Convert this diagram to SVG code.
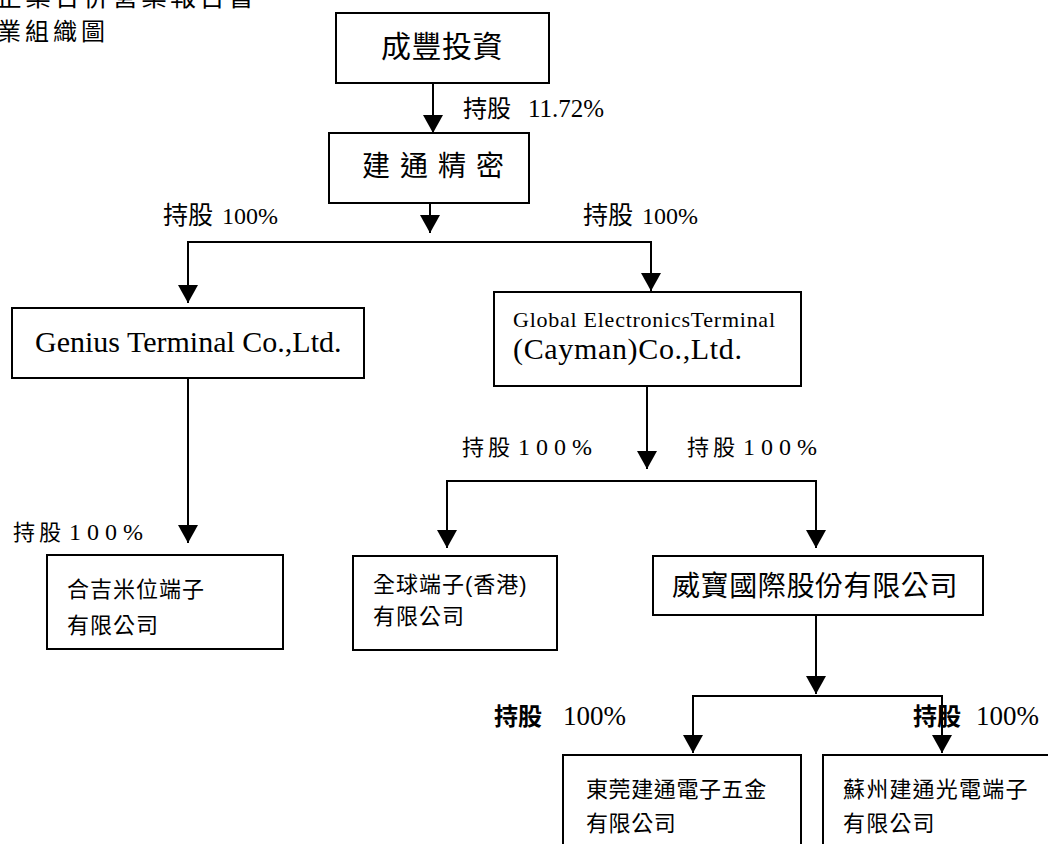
<svg xmlns="http://www.w3.org/2000/svg" width="1048" height="844" viewBox="0 0 1048 844">
<defs>
<style>
.box{fill:#fff;stroke:#000;stroke-width:2}
.c{fill:none;stroke:#000;stroke-width:2}
.t{font-family:"Liberation Serif","Noto Sans CJK TC",serif;fill:#000}
.s{font-family:"Liberation Sans","Noto Sans CJK TC",sans-serif;fill:#000}
.k{font-family:"Noto Sans CJK TC",sans-serif}
</style>
<marker id="ah" viewBox="0 0 18 20" refX="18" refY="10" markerWidth="18" markerHeight="20" markerUnits="userSpaceOnUse" orient="auto">
<path d="M0,0 L18,10 L0,20 z" fill="#000"/>
</marker>
</defs>
<rect width="1048" height="844" fill="#fff"/>
<g id="title">
<text class="t" x="-4" y="6" font-size="26" letter-spacing="3">企業合併營業報告書</text>
<text class="t" x="-3" y="40" font-size="24" letter-spacing="4">業組織圖</text>
</g>
<g id="connectors">
<line class="c" x1="433" y1="83" x2="433" y2="133" marker-end="url(#ah)"/>
<line class="c" x1="430" y1="203" x2="430" y2="233" marker-end="url(#ah)"/>
<polyline class="c" points="188,242 651,242 651,291" marker-end="url(#ah)"/>
<line class="c" x1="188" y1="241" x2="188" y2="303" marker-end="url(#ah)"/>
<line class="c" x1="188" y1="378" x2="188" y2="543" marker-end="url(#ah)"/>
<line class="c" x1="647" y1="386" x2="647" y2="469" marker-end="url(#ah)"/>
<polyline class="c" points="447,481 816,481 816,548" marker-end="url(#ah)"/>
<line class="c" x1="447" y1="480" x2="447" y2="548" marker-end="url(#ah)"/>
<line class="c" x1="816" y1="615" x2="816" y2="694" marker-end="url(#ah)"/>
<polyline class="c" points="693,696 942,696 942,753" marker-end="url(#ah)"/>
<line class="c" x1="693" y1="695" x2="693" y2="753" marker-end="url(#ah)"/>
</g>
<g id="labels">
<text class="t" y="117"><tspan class="k" font-size="24" x="463">持股</tspan><tspan font-size="25" x="528">11.72%</tspan></text>
<text class="t" y="224"><tspan class="k" font-size="25" x="163">持股</tspan><tspan font-size="24" x="222">100%</tspan></text>
<text class="t" y="224"><tspan class="k" font-size="25" x="583">持股</tspan><tspan font-size="24" x="642">100%</tspan></text>
<text class="t" y="540"><tspan class="k" font-size="22" x="13 39">持股</tspan><tspan font-size="24" x="69 87 105 123">100%</tspan></text>
<text class="t" y="455"><tspan class="k" font-size="22" x="462 488">持股</tspan><tspan font-size="24" x="518 536 554 572">100%</tspan></text>
<text class="t" y="455"><tspan class="k" font-size="22" x="687 713">持股</tspan><tspan font-size="24" x="743 761 779 797">100%</tspan></text>
<text class="t" y="725"><tspan class="k" font-size="24" font-weight="bold" x="494">持股</tspan><tspan font-size="27" x="563">100%</tspan></text>
<text class="t" y="725"><tspan class="k" font-size="24" font-weight="bold" x="913">持股</tspan><tspan font-size="27" x="976">100%</tspan></text>
</g>
<g id="n1">
<rect class="box" x="336" y="13" width="213" height="70"/>
<text class="s" x="381" y="57" font-size="30" letter-spacing="0.5">成豐投資</text>
</g>
<g id="n2">
<rect class="box" x="329" y="133" width="200" height="70"/>
<text class="s" x="362" y="176" font-size="28" letter-spacing="10">建通精密</text>
</g>
<g id="n3">
<rect class="box" x="12" y="308" width="352" height="70"/>
<text class="t" x="35" y="352" font-size="30">Genius Terminal Co.,Ltd.</text>
</g>
<g id="n4">
<rect class="box" x="494" y="292" width="307" height="94"/>
<text class="t" x="513" y="327" font-size="22" textLength="262" lengthAdjust="spacing">Global ElectronicsTerminal</text>
<text class="t" x="513" y="359" font-size="30" textLength="229" lengthAdjust="spacing">(Cayman)Co.,Ltd.</text>
</g>
<g id="n5">
<rect class="box" x="47" y="555" width="236" height="94"/>
<text class="s" x="67" y="597" font-size="22" letter-spacing="1">合吉米位端子</text>
<text class="s" x="67" y="633" font-size="22" letter-spacing="1">有限公司</text>
</g>
<g id="n6">
<rect class="box" x="353" y="556" width="204" height="94"/>
<text class="s" x="373" y="592" font-size="22" letter-spacing="1">全球端子(香港)</text>
<text class="s" x="373" y="624" font-size="22" letter-spacing="1">有限公司</text>
</g>
<g id="n7">
<rect class="box" x="653" y="556" width="330" height="59"/>
<text class="s" x="672" y="596" font-size="28" letter-spacing="0.6">威寶國際股份有限公司</text>
</g>
<g id="n8">
<rect class="box" x="563" y="755" width="238" height="100"/>
<text class="s" x="586" y="797" font-size="22" letter-spacing="0.6">東莞建通電子五金</text>
<text class="s" x="586" y="831" font-size="22" letter-spacing="0.6">有限公司</text>
</g>
<g id="n9">
<rect class="box" x="823" y="755" width="240" height="100"/>
<text class="s" x="843" y="797" font-size="22" letter-spacing="1.2">蘇州建通光電端子</text>
<text class="s" x="843" y="831" font-size="22" letter-spacing="1.2">有限公司</text>
</g>
</svg>
